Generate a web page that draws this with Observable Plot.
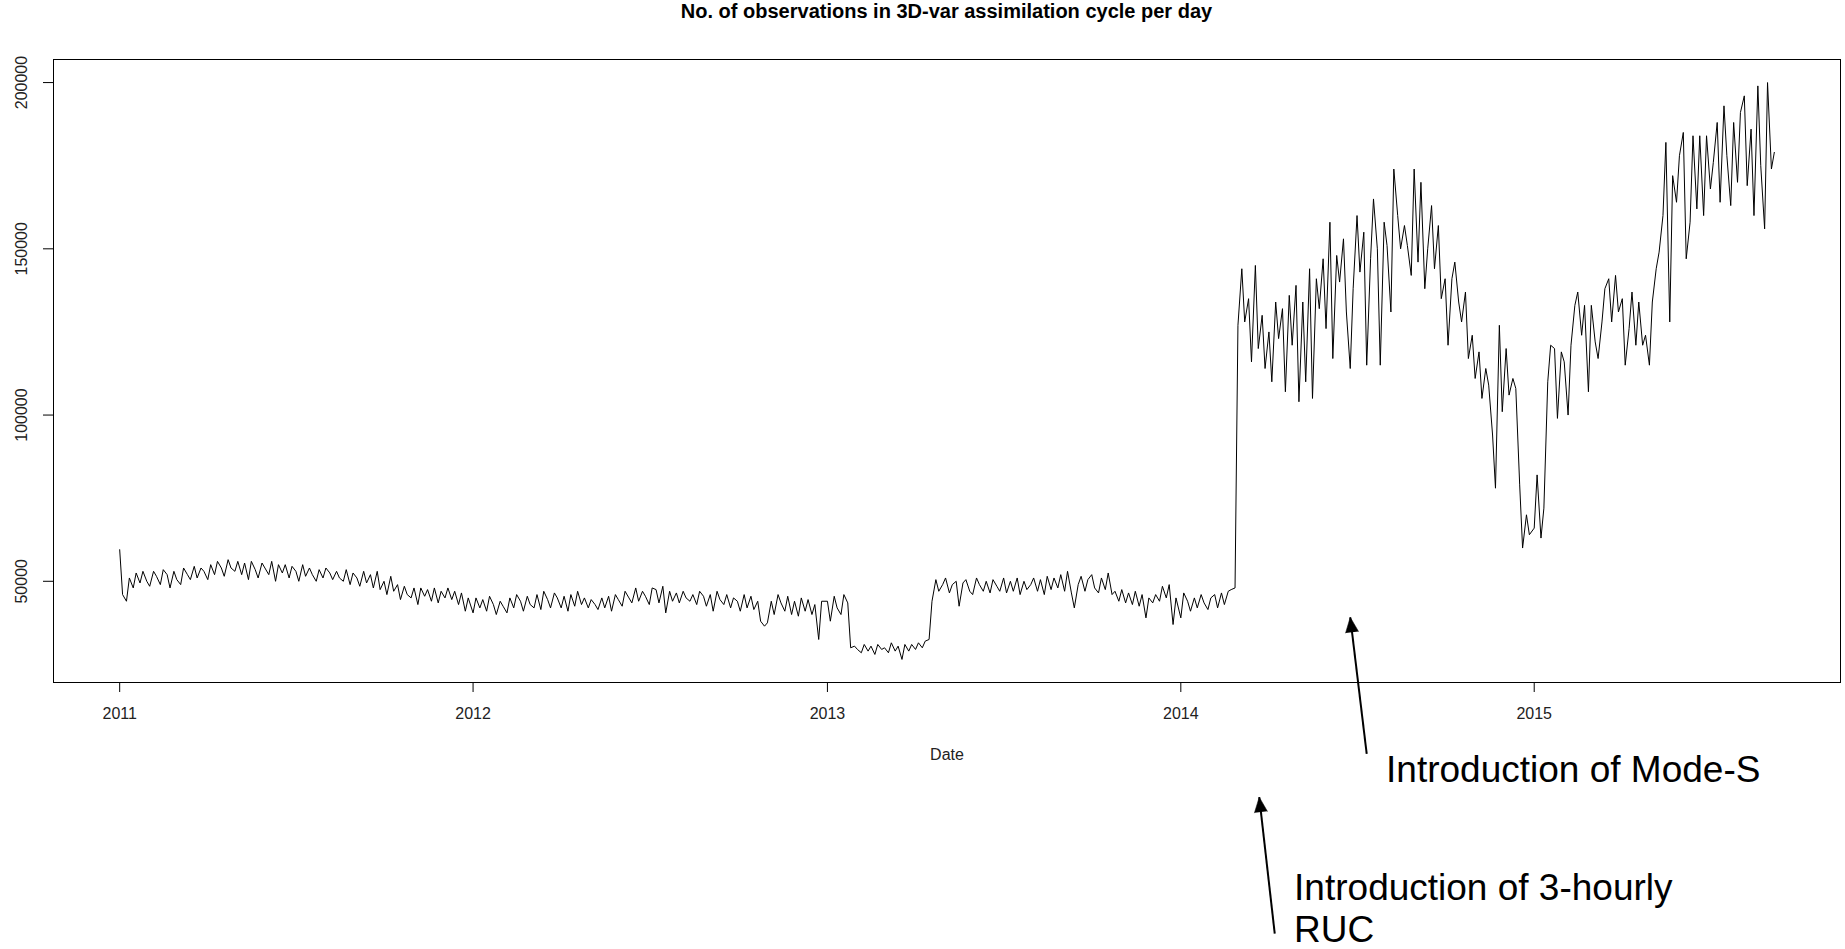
<!DOCTYPE html>
<html>
<head>
<meta charset="utf-8">
<script src="https://cdn.jsdelivr.net/npm/d3@7"></script>
<script src="https://cdn.jsdelivr.net/npm/@observablehq/plot@0.6"></script>
<style>
html, body { margin: 0; padding: 0; background: #fff; overflow: hidden; }
#title { width: 1845px; height: 38px; line-height: 38px; box-sizing: border-box; padding-left: 53px; padding-right: 5px;
  text-align: center; font: bold 20px "Liberation Sans", Arial, sans-serif; color: #000; }
</style>
</head>
<body>
<div id="title">No. of observations in 3D-var assimilation cycle per day</div>
<div id="chart"></div>
<script>
// Observations per day (thousands), sampled twice a week from Jan 1 of each year
const obs2011 = [
  59.5,46,44,51,48,52.5,49.5,53, 50,48.5,53,51.5,49,53.5,52,48, 53,50.5,49,54,52,50.5,54.5,51,
  54,53,50.5,55,52,56,54,51.5, 56.5,54,53,56,52,55.5,50.5,56, 53.5,51,55.5,54,52,56,50,55,
  52.5,55,51,54.5,53,50,55,51.5, 54,52,50,53.5,51,54,52.5,50.5, 53,51,50,53.5,49,52.5,51,48.5,
  53,49.5,52,48,53,47.5,50,46, 51.5,47,49,44.5,48.5,46,45,48, 43,48,45.5,47.5,44,48,43.5,47,
  45,48,44.5,47,43,46.5,41,45
];
const obs2012 = [
  40.5,45,42,44.5,41,45.5,43,40, 44,42.5,40.5,45,42,46,44,41, 45.5,43,42,46,41.5,47,44.5,42,
  46.5,45,42,45.5,41,46,42.5,47, 43,45,42,44.5,43,41.5,45,42, 45.5,41,46,44.5,42.5,47,45,43.5,
  48,44,47,45.5,43,48,47.5,43.5, 48.5,40.5,47,44,46.5,43.5,47,45, 44,46,43,47,45.5,42.5,46,41,
  47,44.5,43,46,42,45,44,41, 46,42,45.5,41.5,44,38,36.5,37.5, 44,40,46,43.5,41,45.5,40,44,
  39.5,45,41,44.5,40,43,32.5,44
];
const obs2013 = [
  44,38,45.5,42,40,46,43.5,30, 30.5,29.5,28.5,31,29,30.5,28,31, 29.5,30,28.5,31.5,29,30.5,26.5,31,
  29,31,29.5,31.5,30,32,32.5,44, 50.5,47,49,51,46.5,49,50,42.5, 49.5,50.5,47,46,51,49,47,50,
  46.5,50.5,48.5,47,51,46.5,50,47, 51,46,50,47.5,49,51,47,50.5, 46,51.5,47.5,51,48,52,47,53,
  46.5,42,49,51.5,47,50.5,52,48, 46.5,51,47.5,52.5,46,47,44,47.5, 43.5,46.5,43,47,42.5,46,39,45,
  43.5,46,44,48.5,45,49,37,45
];
const obs2014 = [
  39,46.5,44,41,45,42,46,43.5, 41.5,45,46,42,46.5,43,47,47.5, 48,127,144,128,135,116,145,120,
  130,114,125,110,134,123,132,107, 136,121,139,104,134,110,144,105, 141,132,147,126,158,117,148,140,
  153,131,114,138,160,143,155,115, 147,165,150,115,158,151,131,174, 160,150,157,151,142,174,146,170,
  138,150,163,144,157,135,141,121, 141,146,134,128,137,117,124,111, 119,105,114,109,94,78,127,101,
  120,106,111,108,79,60,70,64
];
const obs2015 = [
  66,82,63,72,110,121,120,99, 119,116,100,121,133,137,124,133, 107,133,122,117,128,138,141,128,
  142,131,135,115,126,137,121,134, 121,124,115,134,144,149,160,182, 128,172,164,178,185,147,158,184,
  162,184,160,184,168,176,188,164, 193,178,163,188,170,191,196,169, 186,160,199,175,156,200,174,179
];
const seriesYears = [2011, 2012, 2013, 2014, 2015];
const seriesValues = [obs2011, obs2012, obs2013, obs2014, obs2015];

const xTickYears = [2011, 2012, 2013, 2014, 2015];
const yTicks = [50000, 100000, 150000, 200000];
const xLabel = "Date";

const annotations = [
  {label: "Introduction of Mode-S", textDate: "2014-08-01", textObs: -1300,
   tailDate: "2014-07-12", tailObs: -1880, headDate: "2014-06-25", headObs: 39180},
  {label: "Introduction of 3-hourly\nRUC", textDate: "2014-04-28", textObs: -36900,
   tailDate: "2014-04-08", tailObs: -55980, headDate: "2014-03-23", headObs: -14920}
];

// ---- build table ----
const data = seriesValues.flatMap((vals, k) =>
  vals.map((v, i) => ({
    date: d3.utcDay.offset(new Date(Date.UTC(seriesYears[k], 0, 1)), Math.floor(i * 3.5)),
    obs: v * 1000
  })));
const ann = annotations.map(a => ({...a,
  textDate: new Date(a.textDate), tailDate: new Date(a.tailDate), headDate: new Date(a.headDate)}));

// R-style 4% padding of the data range
const [x0, x1] = d3.extent(data, d => d.date);
const xpad = (x1 - x0) * 0.04;
const xDomain = [new Date(+x0 - xpad), new Date(+x1 + xpad)];
const [y0, y1] = d3.extent(data, d => d.obs);
const ypad = (y1 - y0) * 0.04;
const yDomain = [y0 - ypad, y1 + ypad];

const W = 1845, H = 911;
const M = {top: 21, right: 5, bottom: 267, left: 53};

const xs = Plot.scale({x: {type: "utc", domain: xDomain, range: [M.left, W - M.right]}});
const ys = Plot.scale({y: {type: "linear", domain: yDomain, range: [H - M.bottom, M.top]}});
ann.forEach(a => {
  const dx = xs.apply(a.headDate) - xs.apply(a.tailDate);
  const dy = ys.apply(a.headObs) - ys.apply(a.tailObs);
  a.angle = Math.atan2(dx, -dy) * 180 / Math.PI;
});

const chart = Plot.plot({
  width: W, height: H,
  marginTop: M.top, marginRight: M.right, marginBottom: M.bottom, marginLeft: M.left,
  style: {fontFamily: "'Liberation Sans', Arial, sans-serif", fontSize: "16px", background: "#fff", color: "#000", overflow: "visible"},
  x: {type: "utc", domain: xDomain},
  y: {type: "linear", domain: yDomain},
  marks: [
    Plot.frame({stroke: "#000", strokeWidth: 1}),
    Plot.axisX({ticks: xTickYears.map(y => new Date(Date.UTC(y, 0, 1))), tickFormat: d3.utcFormat("%Y"),
      tickSize: 10, tickPadding: 15, label: null, fontSize: 16, fill: "#222", stroke: "#000"}),
    Plot.axisY({ticks: yTicks, tickSize: 10, tickFormat: () => "", label: null, stroke: "#000"}),
    Plot.text(yTicks, {frameAnchor: "left", y: d => d, text: d => String(d), rotate: -90, dx: -32,
      textAnchor: "middle", lineAnchor: "middle", fontSize: 16, fill: "#222"}),
    Plot.text([xLabel], {frameAnchor: "bottom", text: d => d, dy: 72, lineAnchor: "middle", fontSize: 16, fill: "#222"}),
    Plot.line(data, {x: "date", y: "obs", stroke: "#000", strokeWidth: 1}),
    Plot.link(ann, {x1: "tailDate", y1: "tailObs", x2: "headDate", y2: "headObs", stroke: "#000", strokeWidth: 2}),
    Plot.vector(ann, {x: "headDate", y: "headObs", rotate: "angle", length: 15, r: 6.5, shape: "spike",
      anchor: "end", fill: "#000", stroke: "#000", strokeWidth: 0.5}),
    Plot.text(ann, {x: "textDate", y: "textObs", text: "label", textAnchor: "start", lineAnchor: "top",
      fontSize: 37, lineHeight: 1.13, fill: "#000"})
  ]
});
document.getElementById("chart").appendChild(chart);
</script>
</body>
</html>
